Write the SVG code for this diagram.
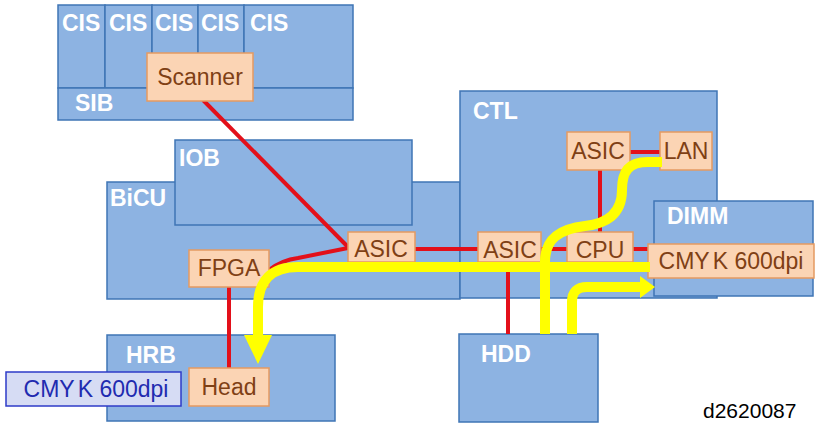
<svg xmlns="http://www.w3.org/2000/svg" width="818" height="426" viewBox="0 0 818 426">
<style>
.blk{fill:#8db3e2;stroke:#3f75b5;stroke-width:1.5}
.org{fill:#fbd4b4;stroke:#e59a62;stroke-width:1.5}
.wl{font-family:"Liberation Sans",Arial,sans-serif;font-weight:bold;font-size:23px;fill:#ffffff}
.ol{font-family:"Liberation Sans",Arial,sans-serif;font-size:23px;fill:#7f4015;text-anchor:middle}
.red{stroke:#e3101a;stroke-width:4;fill:none}
.yel{stroke:#ffff00;stroke-width:10;fill:none}
.yh{fill:#ffff00}
</style>
<rect width="818" height="426" fill="#ffffff"/>
<g id="CIS1"><rect class="blk" x="58" y="5" width="47" height="83"/><text class="wl" x="62" y="31">CIS</text></g>
<g id="CIS2"><rect class="blk" x="105" y="5" width="47" height="83"/><text class="wl" x="109" y="31">CIS</text></g>
<g id="CIS3"><rect class="blk" x="152" y="5" width="46" height="83"/><text class="wl" x="155" y="31">CIS</text></g>
<g id="CIS4"><rect class="blk" x="198" y="5" width="46" height="83"/><text class="wl" x="201" y="31">CIS</text></g>
<g id="CIS5"><rect class="blk" x="244" y="5" width="109" height="83"/><text class="wl" x="250" y="31">CIS</text></g>
<g id="SIB"><rect class="blk" x="58" y="88" width="295" height="32"/><text class="wl" x="75" y="111">SIB</text></g>
<g id="BiCU"><rect class="blk" x="107" y="182" width="353" height="117"/><text class="wl" x="110" y="206">BiCU</text></g>
<g id="IOB"><rect class="blk" x="175" y="140" width="237" height="85"/><text class="wl" x="179" y="166">IOB</text></g>
<g id="CTL"><rect class="blk" x="460" y="91" width="257" height="207"/><text class="wl" x="473" y="119">CTL</text></g>
<g id="DIMM"><rect class="blk" x="654" y="201" width="159" height="95"/><text class="wl" x="667" y="224">DIMM</text></g>
<g id="HRB"><rect class="blk" x="107" y="335" width="228" height="86"/><text class="wl" x="126" y="363">HRB</text></g>
<g id="HDD"><rect class="blk" x="459" y="334" width="139" height="88"/><text class="wl" x="481" y="362">HDD</text></g>
<g id="connectors">
<path class="red" d="M203,100 L348,247"/>
<path class="red" d="M269,270 Q282,260 298,258 L348,248"/>
<path class="red" d="M415,249 H478"/>
<path class="red" d="M541,249 H567"/>
<path class="red" d="M633,249 H648"/>
<path class="red" d="M630,152 H660"/>
<path class="red" d="M600,170 V232"/>
<path class="red" d="M508,262 V334"/>
<path class="red" d="M229,287 V368"/>
</g>
<g id="Scanner"><rect class="org" x="147" y="53" width="106" height="48"/><text class="ol" x="200" y="85">Scanner</text></g>
<g id="ASIC_BiCU"><rect class="org" x="348" y="232" width="67" height="30"/><text class="ol" x="381" y="257">ASIC</text></g>
<g id="FPGA"><rect class="org" x="189" y="250" width="80" height="37"/><text class="ol" x="229" y="276">FPGA</text></g>
<g id="ASIC_CTL_top"><rect class="org" x="567" y="132" width="63" height="38"/><text class="ol" x="598" y="159">ASIC</text></g>
<g id="LAN"><rect class="org" x="660" y="132" width="52" height="38"/><text class="ol" x="686" y="159">LAN</text></g>
<g id="ASIC_CTL"><rect class="org" x="478" y="232" width="63" height="30"/><text class="ol" x="510" y="258">ASIC</text></g>
<g id="CPU"><rect class="org" x="567" y="232" width="66" height="30"/><text class="ol" x="600" y="258">CPU</text></g>
<g id="CMYK_DIMM"><rect class="org" x="648" y="244" width="166" height="34"/><text class="ol" x="731" y="269">CMY<tspan dx="3">K 600dpi</tspan></text></g>
<g id="Head"><rect class="org" x="189" y="368" width="80" height="38"/><text class="ol" x="229" y="395">Head</text></g>
<g id="CMYK_out"><rect x="6" y="372" width="175" height="34" fill="#d6dcf4" stroke="#2e3bc8" stroke-width="1.5"/><text x="96" y="397" font-family="Liberation Sans,Arial,sans-serif" font-size="23" fill="#1f2bb0" text-anchor="middle">CMY<tspan dx="3">K 600dpi</tspan></text></g>
<g id="dataflow">
<path class="yel" d="M650,267 H298 Q258,267 258,307 V336"/>
<polygon class="yh" points="244,335 272,335 258,364"/>
<path class="yel" d="M662,162 H648 C628,162 622,172 622,190 C622,215 605,224 585,226 C558,229 545,240 545,262 V334"/>
<path class="yel" d="M572,334 V302 Q572,287 587,287 H641"/>
<polygon class="yh" points="640,276 640,298 655,287"/>
</g>
<text x="703" y="418" font-family="Liberation Sans,Arial,sans-serif" font-size="21" fill="#000000">d2620087</text>
</svg>
